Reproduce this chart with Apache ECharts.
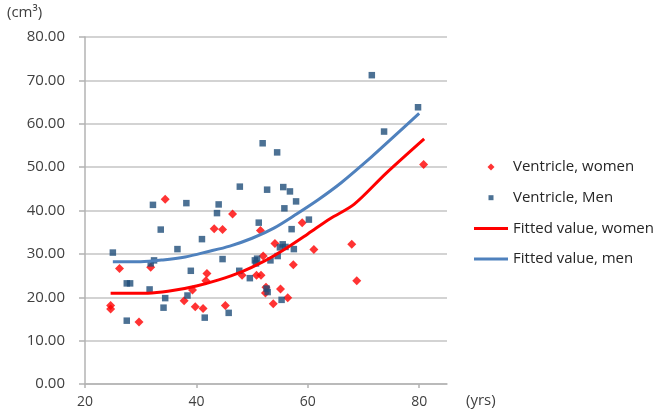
<!DOCTYPE html>
<html>
<head>
<meta charset="utf-8">
<script src="https://cdn.jsdelivr.net/npm/echarts@6/dist/echarts.min.js"></script>
<style>
  html, body { margin: 0; padding: 0; background: #fff; }
  #chart { width: 658px; height: 416px; }
</style>
</head>
<body>
<div id="chart"></div>
<script>
// ventricle volume (cm3) vs age (yrs)
var womenAge = [24.6, 24.6, 26.2, 29.7, 31.8, 34.4, 37.8, 39.3, 39.8, 41.2, 41.9, 41.7, 43.2, 44.7, 45.2, 46.5, 48.2,
  50.8, 51.6, 51.5, 52.0, 52.5, 52.4, 53.8, 54.1, 55.1, 56.4, 57.4, 59.0, 61.1, 67.9, 68.8, 80.8];
var womenVol = [18.1, 17.3, 26.6, 14.3, 26.9, 42.6, 19.2, 21.7, 17.8, 17.4, 25.5, 23.8, 35.8, 35.6, 18.1, 39.2, 25.1,
  25.1, 25.1, 35.4, 29.5, 22.3, 21.0, 18.5, 32.4, 21.9, 19.9, 27.5, 37.2, 31.0, 32.2, 23.8, 50.6];

var menAge = [25.0, 27.5, 28.1, 27.5, 31.6, 31.8, 32.4, 32.2, 33.6, 34.1, 34.4, 36.6, 38.2, 38.4, 39.0, 41.0, 41.5,
  43.7, 44.0, 44.7, 45.8, 47.7, 47.8, 49.6, 50.5, 50.9, 50.7, 51.2, 51.9, 52.7, 52.6, 52.8, 53.3, 54.5, 54.6,
  55.0, 55.5, 56.0, 55.3, 55.6, 55.8, 56.8, 57.1, 57.5, 57.9, 60.2, 71.5, 73.7, 79.8];
var menVol = [30.3, 23.2, 23.2, 14.6, 21.8, 27.8, 28.5, 41.3, 35.6, 17.6, 19.8, 31.1, 41.7, 20.4, 26.1, 33.4, 15.3,
  39.4, 41.4, 28.8, 16.4, 26.1, 45.5, 24.4, 28.5, 28.9, 27.8, 37.2, 55.5, 44.8, 22.0, 21.2, 28.5, 53.4, 29.5,
  31.5, 32.2, 31.6, 19.4, 45.4, 40.5, 44.4, 35.7, 31.1, 42.1, 37.9, 71.2, 58.2, 63.8];

var fitWomenAge = [24.6, 28, 32, 36, 40, 44, 48, 52, 56, 60, 64, 68.3, 74, 80.9];
var fitWomenVol = [20.9, 20.9, 21.0, 21.6, 22.6, 24.0, 25.8, 28.2, 31.2, 34.6, 38.1, 41.4, 48.5, 56.5];

var fitMenAge = [25, 30, 34, 38, 42, 46, 50, 54, 58, 62, 66, 71.4, 75, 80];
var fitMenVol = [28.2, 28.2, 28.6, 29.3, 30.5, 31.8, 33.6, 36.0, 39.2, 42.6, 46.4, 52.3, 56.5, 62.4];

var xTicks = [20, 40, 60, 80];
var seriesNames = ['Ventricle, women', 'Ventricle, Men', 'Fitted value, women', 'Fitted value, men'];

function pairs(xs, ys) {
  var out = [];
  for (var i = 0; i < xs.length; i++) {
    out.push([xs[i], ys[i]]);
  }
  return out;
}

var font = '"Open Sans", "Liberation Sans", sans-serif';
var myChart = echarts.init(document.getElementById('chart'), null, { renderer: 'canvas' });

var option = {
  backgroundColor: '#fff',
  animation: false,
  grid: { left: 85, right: 211, top: 37, bottom: 32 },
  legend: {
    orient: 'vertical',
    left: 469,
    top: 154,
    itemWidth: 34,
    itemHeight: 7,
    itemGap: 14.7,
    textStyle: { fontFamily: font, fontSize: 15, color: '#262626', lineHeight: 16 },
    data: [
      // diamond / square drawn small in the middle of the icon box, lines span the box
      { name: seriesNames[0], icon: 'path://M3.5 0L7 3.5L3.5 7L0 3.5z' },
      { name: seriesNames[1], icon: 'path://M1 1h5v5h-5z M0 0 M7 7' },
      { name: seriesNames[2], icon: 'path://M0 0h34v3h-34z' },
      { name: seriesNames[3], icon: 'path://M0 0h34v3h-34z' }
    ]
  },
  xAxis: {
    type: 'value',
    min: 20,
    max: 85,
    interval: 20,
    splitLine: { show: false },
    axisLine: { show: true, lineStyle: { color: '#b3b3b3', width: 1.5 } },
    axisTick: { show: true, length: 4, customValues: xTicks, lineStyle: { color: '#b3b3b3', width: 1.5 } },
    axisLabel: { customValues: xTicks, fontFamily: font, fontSize: 14, color: '#404040', margin: 11 }
  },
  yAxis: {
    type: 'value',
    min: 0,
    max: 80,
    interval: 10,
    axisLine: { show: true, lineStyle: { color: '#b3b3b3', width: 1.5 } },
    axisTick: { show: true, length: 6, lineStyle: { color: '#b3b3b3', width: 1.5 } },
    splitLine: { lineStyle: { color: '#c4c4c4', width: 1.5 } },
    axisLabel: {
      fontFamily: font, fontSize: 15, color: '#404040', margin: 20,
      formatter: function (v) { return v.toFixed(2); }
    }
  },
  graphic: [
    {
      type: 'text', left: 7, top: 5,
      style: { text: '(cm³)', fontFamily: font, fontSize: 15, fill: '#404040' }
    },
    {
      type: 'text', left: 466, top: 393,
      style: { text: '(yrs)', fontFamily: font, fontSize: 15, fill: '#404040' }
    }
  ],
  series: [
    {
      name: seriesNames[0],
      type: 'scatter',
      symbol: 'diamond',
      symbolSize: 9,
      itemStyle: { color: '#ff0000' },
      data: pairs(womenAge, womenVol)
    },
    {
      name: seriesNames[1],
      type: 'scatter',
      symbol: 'rect',
      symbolSize: 6.5,
      itemStyle: { color: '#1f4e79' },
      data: pairs(menAge, menVol)
    },
    {
      name: seriesNames[2],
      type: 'line',
      smooth: 0.3,
      symbol: 'none',
      lineStyle: { color: '#ff0000', width: 3 },
      itemStyle: { color: '#ff0000' },
      data: pairs(fitWomenAge, fitWomenVol)
    },
    {
      name: seriesNames[3],
      type: 'line',
      smooth: 0.3,
      symbol: 'none',
      lineStyle: { color: '#4f81bd', width: 3 },
      itemStyle: { color: '#4f81bd' },
      data: pairs(fitMenAge, fitMenVol)
    }
  ]
};
myChart.setOption(option);
window.addEventListener('resize', function () { myChart.resize(); });
</script>
</body>
</html>
